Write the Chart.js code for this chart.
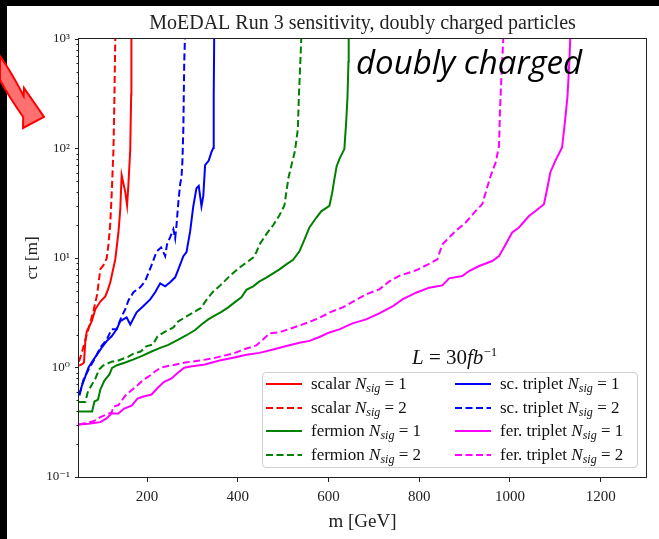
<!DOCTYPE html>
<html><head><meta charset="utf-8">
<script src="https://cdn.jsdelivr.net/npm/chart.js@4.4.1/dist/chart.umd.min.js"></script>
<style>
html,body{margin:0;padding:0;background:#000;}
#wrap{position:relative;width:659px;height:539px;overflow:hidden;}
#c{position:absolute;left:0;top:0;}
.ov{position:absolute;white-space:nowrap;color:#000;}
#dbl{left:356px;top:42px;font-family:"Open Sans",sans-serif;font-style:italic;font-size:33px;line-height:40px;}
#lum{left:412px;top:345px;font-family:"Liberation Serif",serif;font-size:21px;line-height:24px;color:#111;}
#legend{position:absolute;left:262px;top:372px;width:376px;height:96px;border:1px solid #cfcfcf;border-radius:4px;background:rgba(255,255,255,0.85);box-sizing:border-box;font-family:"Liberation Serif",serif;font-size:17px;color:#111;}
.item{position:absolute;height:20px;line-height:20px;white-space:nowrap;}
.item svg{position:absolute;left:0;top:0;}
.item span{position:absolute;top:0;}
sub{font-size:12px;font-style:italic;vertical-align:-3px;line-height:0;}
</style>
</head><body>
<div id="wrap">
<canvas id="c" width="659" height="539"></canvas>
<div class="ov" id="dbl">doubly charged</div>
<div class="ov" id="lum"><i>L</i> = 30<i>fb</i><sup style="font-size:13px;vertical-align:8px;line-height:0">−1</sup></div>
<div id="legend"></div>
</div>
<script>
// ---- data (m [GeV], c*tau [m]) ----
const scalar1M  = [50, 56, 61, 64, 67, 78, 86, 97, 108, 114, 119, 130, 137, 141, 144, 152, 156, 159, 163, 165, 165.5];
const scalar1CT = [1.04, 1.07, 1.11, 1.73, 2.13, 2.64, 3.4, 4.0, 4.46, 5.17, 6.0, 9.7, 17.2, 27.9, 57, 40, 30.3, 47, 99, 309, 1000];
const scalar2M  = [50, 57, 64, 75, 82, 90, 97, 104, 111, 115, 119, 122, 126, 128, 130];
const scalar2CT = [1.13, 1.4, 1.8, 2.58, 3.3, 4.65, 7.9, 8.6, 9.9, 13.3, 21, 38, 98, 282, 1000];
const fermion1M  = [50, 79, 84, 92, 97, 106, 117, 123, 134, 152, 169, 188, 210, 229, 247, 269, 286, 306, 320, 335, 350, 364, 379, 393, 408, 419, 434, 448, 463, 478, 492, 507, 522, 536, 547, 558, 573, 584, 602, 608, 613, 618, 624, 635, 639, 642, 644, 644.6];
const fermion1CT = [0.396, 0.396, 0.489, 0.51, 0.63, 0.76, 0.863, 0.99, 1.05, 1.11, 1.18, 1.27, 1.4, 1.51, 1.61, 1.8, 1.96, 2.2, 2.47, 2.75, 2.99, 3.22, 3.54, 3.93, 4.37, 5.12, 5.51, 6.12, 6.62, 7.24, 7.88, 8.75, 9.63, 11.5, 14.7, 19, 23.3, 26.7, 29.9, 39, 52.5, 69, 80, 98.8, 174, 301, 619, 1000];
const fermion2M  = [50, 64, 69, 78.5, 86, 94.5, 103, 122, 137, 158, 170, 186, 198, 213, 223, 240, 258, 269, 280, 294.5, 305.5, 319, 331, 345, 360, 382, 404, 419, 434, 441, 448, 463, 478, 492, 503, 507, 512, 519, 526, 532.5, 534.7, 538, 540];
const fermion2CT = [0.483, 0.483, 0.59, 0.70, 0.79, 0.96, 1.04, 1.13, 1.16, 1.25, 1.34, 1.4, 1.56, 1.62, 1.92, 2.13, 2.32, 2.64, 2.81, 3.05, 3.25, 3.5, 4.15, 4.9, 5.54, 6.84, 8.17, 9.08, 10.1, 11.3, 13.3, 16.5, 19.9, 24.6, 30.3, 39.9, 54.7, 72, 94.7, 150, 301, 619, 1000];
const scTrip1M  = [51, 56, 64, 71, 82, 93, 100, 111, 122, 133, 141, 155, 163, 177, 192, 207, 218, 229, 240, 251, 262, 269, 280, 287, 295, 302, 309, 314, 320, 324, 328, 336, 342, 346, 347, 348];
const scTrip1CT = [0.555, 0.674, 0.83, 1.0, 1.18, 1.37, 1.52, 1.74, 1.93, 2.23, 2.65, 2.87, 2.47, 3.19, 3.64, 4.19, 4.86, 5.87, 5.51, 6.0, 6.66, 7.88, 10.4, 11.3, 17.5, 29.7, 43.4, 45.6, 29.7, 36.7, 70.5, 77.5, 92.7, 101, 302, 1000];
const scTrip2M  = [50, 54, 60, 71, 86, 97, 111, 122, 133, 143, 152, 159, 170, 185, 196, 209, 221, 231, 240, 244, 251, 258, 262, 265, 269, 273, 276, 278, 280, 282, 283.5];
const scTrip2CT = [0.567, 0.63, 0.777, 0.96, 1.23, 1.52, 1.8, 2.23, 2.23, 2.87, 3.4, 4.1, 4.86, 5.4, 6.16, 8.4, 11.4, 12.5, 10.4, 13.3, 15.5, 18.3, 15.1, 20, 32.3, 47.2, 54.7, 76.7, 150, 617, 1000];
const ferTrip1M  = [50, 71, 97, 110, 122, 137, 149.5, 166, 179, 192, 210, 223, 237, 254, 268, 282, 296, 327.5, 360, 390, 419, 448, 478, 507, 536, 558, 580, 602, 624, 653, 683, 712, 741, 763, 793, 822, 851, 866, 895, 910, 932, 961, 976, 990.5, 1005, 1020, 1042, 1056.5, 1075, 1082, 1089, 1100, 1115, 1122, 1127, 1131, 1133];
const ferTrip1CT = [0.301, 0.307, 0.317, 0.341, 0.38, 0.38, 0.422, 0.449, 0.52, 0.543, 0.567, 0.649, 0.736, 0.793, 0.895, 0.994, 1.02, 1.065, 1.16, 1.23, 1.31, 1.36, 1.46, 1.57, 1.68, 1.75, 1.9, 2.09, 2.23, 2.53, 2.75, 3.12, 3.61, 4.19, 4.82, 5.36, 5.62, 6.52, 6.84, 7.6, 8.45, 9.39, 10.4, 13.3, 17.1, 19, 24.2, 26.9, 31, 42.5, 60.4, 77.1, 102, 186, 302, 619, 1000];
const ferTrip2M  = [50, 82, 97, 110, 122, 126, 137, 151.6, 163.7, 177.4, 190, 206.6, 217.6, 230.8, 256, 284, 316.5, 345, 364.8, 389.7, 419, 441, 455.6, 470.3, 492.3, 514.3, 536.3, 558.2, 580, 605.5, 631.4, 661, 685.7, 712, 734, 756, 793, 822, 840, 851, 877, 902.6, 924.6, 939, 946.6, 957.6, 968.6, 976, 978, 981, 984.6, 985.3];
const ferTrip2CT = [0.301, 0.323, 0.352, 0.372, 0.388, 0.44, 0.454, 0.549, 0.61, 0.68, 0.76, 0.845, 0.92, 1.0, 1.05, 1.11, 1.16, 1.21, 1.27, 1.34, 1.49, 1.59, 1.8, 2.05, 2.1, 2.25, 2.42, 2.61, 2.84, 3.22, 3.54, 4.15, 4.7, 5.17, 6.12, 6.87, 7.72, 8.85, 9.73, 13.3, 17.1, 21.1, 26.9, 31, 39.7, 56.3, 74.6, 106, 215, 431, 865, 1000];

const seriesNames  = ['scalar', 'scalar', 'fermion', 'fermion', 'sc. triplet', 'sc. triplet', 'fer. triplet', 'fer. triplet'];
const seriesNsig   = [1, 2, 1, 2, 1, 2, 1, 2];
const seriesColors = ['#ff0000', '#ff0000', '#008000', '#008000', '#0000ff', '#0000ff', '#ff00ff', '#ff00ff'];
const seriesM  = [scalar1M, scalar2M, fermion1M, fermion2M, scTrip1M, scTrip2M, ferTrip1M, ferTrip2M];
const seriesCT = [scalar1CT, scalar2CT, fermion1CT, fermion2CT, scTrip1CT, scTrip2CT, ferTrip1CT, ferTrip2CT];

const xTickValues = [200, 400, 600, 800, 1000, 1200];
const xTickLabels = ['200', '400', '600', '800', '1000', '1200'];
const yMajorValues = [0.1, 1, 10, 100, 1000];
const yTickLabels = ['10⁻¹', '10⁰', '10¹', '10²', '10³'];
const titleText = 'MoEDAL Run 3 sensitivity, doubly charged particles';

// ---- chart ----
const SERIF = '"Liberation Serif", "DejaVu Serif", serif';
Chart.defaults.font.family = SERIF;
function majorIndex(v){ return yMajorValues.findIndex(t => Math.abs(t - v) / t < 1e-6); }

const datasets = seriesM.map((ms, i) => ({
  label: seriesNames[i] + ' N_sig = ' + seriesNsig[i],
  data: ms.map((m, j) => ({x: m, y: seriesCT[i][j]})),
  borderColor: seriesColors[i],
  backgroundColor: seriesColors[i],
  borderWidth: 2,
  borderDash: seriesNsig[i] === 2 ? [7, 3.5] : [],
  pointRadius: 0,
  tension: 0,
  fill: false
}));

const framePlugin = {
  id: 'frame',
  beforeDraw(chart){
    const c = chart.ctx;
    c.save();
    c.fillStyle = '#000'; c.fillRect(0, 0, chart.width, chart.height);
    c.fillStyle = '#fff'; c.fillRect(7, 6, chart.width - 7, chart.height - 6);
    c.restore();
  },
  afterDraw(chart){
    const c = chart.ctx, a = chart.chartArea, ys = chart.scales.y;
    c.save();
    c.strokeStyle = '#222'; c.lineWidth = 1;
    c.strokeRect(Math.round(a.left) - 0.5, Math.round(a.top) - 0.5, Math.round(a.right - a.left) + 1, Math.round(a.bottom - a.top) + 1);
    ys.ticks.forEach(t => {
      if (majorIndex(t.value) < 0) {
        const y = Math.round(ys.getPixelForValue(t.value)) + 0.5;
        c.beginPath(); c.moveTo(a.left - 2.5, y); c.lineTo(a.left, y); c.stroke();
      }
    });
    // decorative slide arrow
    c.beginPath();
    c.moveTo(0, 56);
    c.quadraticCurveTo(12, 73, 23.6, 96);
    c.lineTo(24, 88);
    c.lineTo(44, 117);
    c.lineTo(23, 128);
    c.lineTo(23.2, 117);
    c.quadraticCurveTo(9, 97, 0, 80);
    c.closePath();
    c.fillStyle = '#ff7070'; c.fill();
    c.strokeStyle = '#ff0000'; c.lineWidth = 2; c.lineJoin = 'miter'; c.stroke();
    c.restore();
  }
};

new Chart(document.getElementById('c'), {
  type: 'line',
  data: {datasets},
  options: {
    responsive: false, animation: false, devicePixelRatio: 1,
    layout: {padding: {top: 6, right: 13, left: 0, bottom: 0}},
    plugins: {
      legend: {display: false}, tooltip: {enabled: false},
      title: {display: true, text: titleText, fullSize: false, color: '#222',
        font: {family: SERIF, size: 20, weight: 'normal'}, padding: {top: 6, bottom: 3}}
    },
    scales: {
      x: {
        type: 'linear', min: 50, max: 1300,
        afterBuildTicks: s => { s.ticks = xTickValues.map(v => ({value: v})); },
        afterFit: s => { s.height = 62; },
        grid: {drawOnChartArea: false, drawTicks: true, tickLength: 5, color: '#222'},
        border: {display: false},
        ticks: {color: '#222', font: {size: 15}, padding: 6, autoSkip: false, maxRotation: 0,
          callback: v => { const i = xTickValues.indexOf(v); return i >= 0 ? xTickLabels[i] : ''; }},
        title: {display: true, text: 'm [GeV]', color: '#222', font: {size: 19}, padding: {top: 0, bottom: 6}}
      },
      y: {
        type: 'logarithmic', min: 0.1, max: 1000,
        afterBuildTicks: s => {
          const t = [];
          yMajorValues.forEach((d, i) => {
            t.push({value: d, major: true});
            if (i < yMajorValues.length - 1) for (let k = 2; k <= 9; k++) t.push({value: +(d * k).toPrecision(6)});
          });
          s.ticks = t;
        },
        afterFit: s => { s.width = 79; },
        grid: {drawOnChartArea: false, drawTicks: true, tickLength: 4,
          tickColor: c => (c.tick && majorIndex(c.tick.value) >= 0) ? '#222' : 'rgba(0,0,0,0)'},
        border: {display: false},
        ticks: {color: '#222', font: {size: 13}, padding: 5, autoSkip: false,
          callback: v => { const i = majorIndex(v); return i >= 0 ? yTickLabels[i] : ''; }},
        title: {display: true, text: 'cτ [m]', color: '#222', font: {size: 17}, padding: {top: 22, bottom: 0}}
      }
    }
  },
  plugins: [framePlugin]
});

// ---- legend (HTML) ----
const leg = document.getElementById('legend');
const rowTops = [1, 25, 48, 72];
datasets.forEach((ds, i) => {
  const col = Math.floor(i / 4), row = i % 4;
  const it = document.createElement('div');
  it.className = 'item';
  it.style.left = (col ? 192 : 3) + 'px';
  it.style.top = rowTops[row] + 'px';
  const dash = seriesNsig[i] === 2 ? 'stroke-dasharray="7,3.5"' : '';
  it.innerHTML = '<svg width="36" height="20"><line x1="0" y1="10" x2="36" y2="10" stroke="' + seriesColors[i] + '" stroke-width="2.2" ' + dash + '/></svg>' +
    '<span style="left:45px">' + seriesNames[i] + ' <i>N</i><sub>sig</sub> = ' + seriesNsig[i] + '</span>';
  leg.appendChild(it);
});
</script>
</body></html>
